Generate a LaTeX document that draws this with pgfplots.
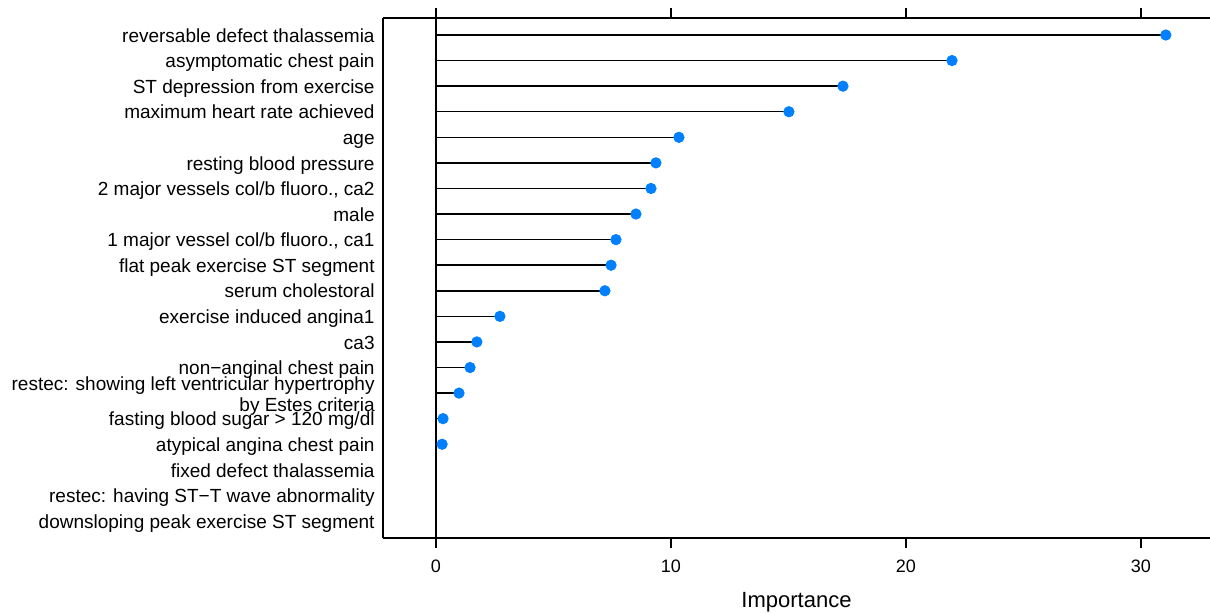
\documentclass[border=0pt]{standalone}
\usepackage{fontspec}
\setmainfont{Liberation Sans}
\usepackage{pgfplots}
\usepackage{pgfplotstable}
\pgfplotsset{compat=1.18}
\definecolor{dotblue}{HTML}{0080FF}
\pgfplotstableread{
row val
1 31.06
2 21.96
3 17.32
4 15.02
5 10.34
6 9.36
7 9.15
8 8.51
9 7.66
10 7.45
11 7.19
12 2.72
13 1.74
14 1.45
15 0.98
16 0.30
17 0.26
}\imp
\begin{document}
\begin{tikzpicture}
\begin{axis}[
  name=ax,
  scale only axis, width=413.5pt, height=260pt,
  xmin=-2.255, xmax=32.94, ymin=0.335, ymax=20.665, y dir=reverse,
  axis x line*=box, axis y line*=left,
  axis line style={line width=0.75pt},
  xtick={0,10,20,30},
  tick align=outside,
  major tick length=5pt,
  xtick style={line width=0.75pt, black},
  ytick={1,...,20},
  ytick style={draw=none},
  yticklabels={
    reversable defect thalassemia\strut,
    asymptomatic chest pain\strut,
    ST depression from exercise\strut,
    maximum heart rate achieved\strut,
    age\strut,
    resting blood pressure\strut,
    {2 major vessels col/b fluoro., ca2\strut},
    male\strut,
    {1 major vessel col/b fluoro., ca1\strut},
    flat peak exercise ST segment\strut,
    serum cholestoral\strut,
    exercise induced angina1\strut,
    ca3\strut,
    non{\textminus}anginal chest pain\strut,
    {restec: showing left ventricular hypertrophy\\by Estes criteria},
    fasting blood sugar > 120 mg/dl\strut,
    atypical angina chest pain\strut,
    fixed defect thalassemia\strut,
    restec: having ST{\textminus}T wave abnormality\strut,
    downsloping peak exercise ST segment\strut},
  yticklabel style={font=\fontsize{9.5}{10.5}\selectfont, align=right, inner sep=0pt, xshift=1pt, yshift=-1.5pt},
  xticklabel style={font=\fontsize{9}{10}\selectfont, /pgf/number format/assume math mode=true, yshift=-2.5pt},
  xlabel={Importance},
  xlabel style={font=\fontsize{11}{13}\selectfont, yshift=-3pt},
  clip=false,
]
\draw[black, line width=0.75pt] (axis cs:0,0.335) -- (axis cs:0,20.665);
\addplot[xcomb, black, line width=0.75pt] table[x=val,y=row]{\imp};
\addplot[only marks, mark=*, mark size=2.6pt, color=dotblue, mark options={draw=dotblue, fill=dotblue}] table[x=val,y=row]{\imp};
\end{axis}
\pgfresetboundingbox
\path[use as bounding box] ([shift={(-191.5pt,-37.5pt)}]ax.south west) rectangle ([shift={(413.5pt,269pt)}]ax.south west);
\end{tikzpicture}
\end{document}
